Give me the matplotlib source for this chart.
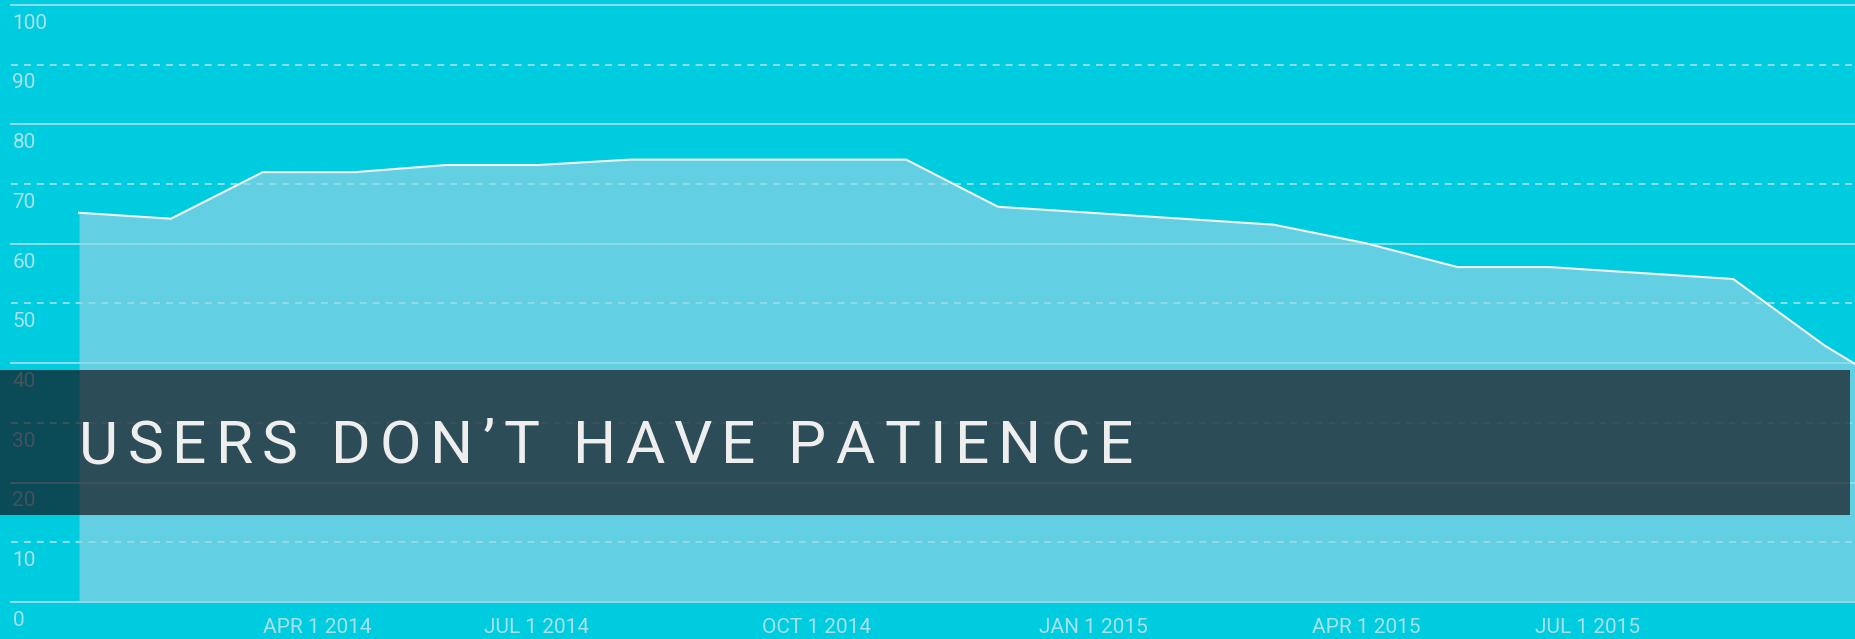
import matplotlib
matplotlib.use("Agg")
import matplotlib.pyplot as plt
import matplotlib.patches as mpatches
import matplotlib.transforms as mtransforms
from matplotlib import font_manager
from matplotlib.ft2font import FT2Font
import numpy as np

# ── data ─────────────────────────────────────────────────────────────────────
# monthly points, Feb 2014 .. Oct 2015 (last one runs off the right edge)
month_idx = np.arange(21)
values = [65.2, 64.2, 72.0, 72.0, 73.2, 73.2, 74.1, 74.1, 74.1, 74.1,
          66.2, 65.2, 64.2, 63.2, 60.1, 56.1, 56.1, 55.1, 54.1, 42.9, 33.6]
xtick_pos = [2.59, 4.98, 8.02, 11.04, 14.01, 16.41]
xtick_labels = ["APR 1 2014", "JUL 1 2014", "OCT 1 2014",
                "JAN 1 2015", "APR 1 2015", "JUL 1 2015"]
ytick_vals = list(range(0, 101, 10))
title = "USERS DON\u2019T HAVE PATIENCE"

# ── colours ──────────────────────────────────────────────────────────────────
BG = "#00CCE0"
FILL = "#63CFE3"
LINE = "#F4F4F4"
GRID = "#8FDCEA"
LABEL = "#A8E0EA"
BANNER = "#100810"
TITLE_C = "#EEEEEE"

W, H, DPI = 1856, 639, 100
plt.rcParams["font.family"] = ["Roboto", "DejaVu Sans"]
plt.rcParams["lines.scale_dashes"] = False

fig = plt.figure(figsize=(W / DPI, H / DPI), dpi=DPI, facecolor=BG)
ax = fig.add_axes([11 / W, 37 / H, (W - 11) / W, 597 / H])
ax.set_facecolor(BG)
for sp in ax.spines.values():
    sp.set_visible(False)

ax.fill_between(month_idx, 0, values, color=FILL, lw=0, zorder=1)
ax.plot(month_idx, values, color=LINE, lw=1.5, zorder=3,
        solid_joinstyle="round")

# grid: solid every 20, dashed in between
for v in ytick_vals:
    ls = "-" if v % 20 == 0 else (0, (5.0, 4.3))
    ax.axhline(v, color=GRID, lw=1.4, ls=ls, zorder=2, clip_on=False)

# y labels sit just under their grid line, inside the plot
ylab_tr = mtransforms.offset_copy(ax.get_yaxis_transform(), fig=fig,
                                  x=1.0, y=-6.3, units="points")
for v in ytick_vals:
    ax.text(0, v, str(v), transform=ylab_tr, ha="left", va="top",
            fontsize=15, color=LABEL, zorder=2)

ax.set_xlim(-0.74, 19.336)
ax.set_ylim(0, 100)
ax.set_yticks([])
ax.set_xticks(xtick_pos, xtick_labels)
ax.tick_params(axis="x", length=0, pad=11.5, labelsize=15, labelcolor=LABEL)

# ── banner with tracked title ────────────────────────────────────────────────
fig.patches.append(mpatches.Rectangle((0, (H - 515) / H), 1850 / W, 145 / H,
                                      transform=fig.transFigure,
                                      facecolor=BANNER, alpha=0.66, lw=0,
                                      zorder=5))

TITLE_PT = 43.5
prop = font_manager.FontProperties(family="Roboto", weight="normal",
                                   size=TITLE_PT)
ft = FT2Font(font_manager.findfont(prop))
ft.set_size(TITLE_PT, DPI)
adv = [ft.load_char(ord(c)).linearHoriAdvance / 65536 for c in title]
x_start, x_end, baseline = 79, 1133, 463
track = ((x_end - x_start) - sum(adv)) / (len(title) - 1)
xp = x_start
for c, a in zip(title, adv):
    fig.text(xp / W, (H - baseline) / H, c, fontproperties=prop,
             color=TITLE_C, ha="left", va="baseline", zorder=6)
    xp += a + track

fig.savefig("out.png", dpi=DPI, facecolor=BG)
